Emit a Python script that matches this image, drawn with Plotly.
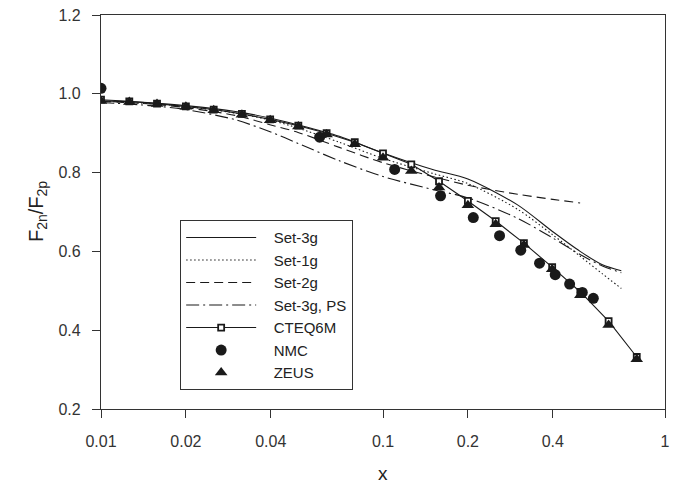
import numpy as np
import plotly.graph_objects as go

# ---- theory curves: F2n/F2p versus x ----
x_theory = [0.01, 0.015, 0.02, 0.03, 0.04, 0.05, 0.07, 0.1, 0.15, 0.2, 0.3, 0.4, 0.5, 0.6, 0.7]
set3g    = [0.982, 0.977, 0.970, 0.955, 0.938, 0.921, 0.892, 0.850, 0.808, 0.784, 0.718, 0.650, 0.600, 0.566, 0.551]
set1g    = [0.981, 0.975, 0.968, 0.951, 0.933, 0.913, 0.877, 0.836, 0.798, 0.772, 0.707, 0.642, 0.588, 0.543, 0.506]
set3g_ps = [0.978, 0.970, 0.960, 0.934, 0.903, 0.874, 0.830, 0.790, 0.757, 0.736, 0.684, 0.634, 0.592, 0.563, 0.546]

x_set2g  = [0.01, 0.015, 0.02, 0.03, 0.04, 0.05, 0.07, 0.1, 0.15, 0.2, 0.3, 0.4, 0.5]
set2g    = [0.981, 0.974, 0.965, 0.945, 0.921, 0.902, 0.864, 0.825, 0.790, 0.768, 0.745, 0.732, 0.723]

# ---- CTEQ6M and ZEUS share the same x grid ----
x_grid = [0.01, 0.0126, 0.0158, 0.0200, 0.0251, 0.0316, 0.0398, 0.0501, 0.0631, 0.0794,
          0.1, 0.126, 0.158, 0.200, 0.251, 0.316, 0.398, 0.501, 0.631, 0.794]
cteq6m = [0.985, 0.981, 0.975, 0.968, 0.960, 0.949, 0.935, 0.919, 0.900, 0.877,
          0.849, 0.821, 0.778, 0.728, 0.677, 0.621, 0.560, 0.497, 0.423, 0.332]
zeus   = [0.982, 0.979, 0.974, 0.967, 0.958, 0.947, 0.933, 0.917, 0.897, 0.872,
          0.838, 0.804, 0.762, 0.717, 0.669, 0.616, 0.555, 0.489, 0.413, 0.326]

# ---- NMC data ----
x_nmc = [0.01, 0.0596, 0.110, 0.160, 0.209, 0.259, 0.308, 0.359, 0.408, 0.459, 0.509, 0.557]
nmc   = [1.014, 0.890, 0.808, 0.741, 0.686, 0.640, 0.603, 0.570, 0.541, 0.517, 0.496, 0.481]

INK = "#1a1a1a"
FONT = "Liberation Sans, Arial, Helvetica, sans-serif"
GAP = "\u00a0\u00a0\u00a0"  # extra room between legend symbol and label

fig = go.Figure()

def curve(x, y, name, dash):
    fig.add_trace(go.Scatter(
        x=x, y=y, name=GAP + name, mode="lines",
        line=dict(color=INK, width=1.1, dash=dash, shape="spline", smoothing=0.8),
    ))

curve(x_theory, set3g, "Set-3g", "solid")
curve(x_theory, set1g, "Set-1g", "1.5px,2.5px")
curve(x_set2g, set2g, "Set-2g", "9px,5px")
curve(x_theory, set3g_ps, "Set-3g, PS", "13px,4px,2px,4px")

fig.add_trace(go.Scatter(
    x=x_grid, y=cteq6m, name=GAP + "CTEQ6M", mode="lines+markers",
    line=dict(color=INK, width=1.1),
    marker=dict(symbol="square", size=6, color="white", line=dict(color=INK, width=1.8)),
))
fig.add_trace(go.Scatter(
    x=x_nmc, y=nmc, name=GAP + "NMC", mode="markers",
    marker=dict(symbol="circle", size=11, color=INK),
))
fig.add_trace(go.Scatter(
    x=x_grid, y=zeus, name=GAP + "ZEUS", mode="markers",
    marker=dict(symbol="triangle-up", size=11, color=INK),
))

axis_common = dict(
    showline=True, linecolor="#333", linewidth=1.2, mirror=True,
    ticks="outside", tickcolor="#333", tickwidth=1.2,
    showgrid=False, zeroline=False, automargin=False,
    tickfont=dict(family=FONT, size=16, color="#333"),
)

fig.update_layout(
    width=680, height=485,
    margin=dict(l=101, r=15, t=15, b=76, pad=0, autoexpand=False),
    paper_bgcolor="white", plot_bgcolor="white",
    xaxis=dict(
        type="log", range=[-2, 0],
        tickvals=[0.01, 0.02, 0.04, 0.1, 0.2, 0.4, 1],
        ticktext=["0.01", "0.02", "0.04", "0.1", "0.2", "0.4", "1"],
        ticklen=8, ticklabelstandoff=10,
        **axis_common,
    ),
    yaxis=dict(
        range=[0.2, 1.2],
        tickvals=[0.2, 0.4, 0.6, 0.8, 1.0, 1.2],
        ticktext=["0.2", "0.4", "0.6", "0.8", "1.0", "1.2"],
        ticklen=8, ticklabelstandoff=8,
        **axis_common,
    ),
    showlegend=True,
    legend=dict(
        x=0.140, y=0.048, xanchor="left", yanchor="bottom",
        bgcolor="white", bordercolor="#333", borderwidth=1.2,
        font=dict(family=FONT, size=15, color="#222"),
        itemwidth=70, tracegroupgap=0,
    ),
    annotations=[
        dict(text="x", xref="paper", yref="paper", x=0.5, y=0, yshift=-64,
             showarrow=False, xanchor="center", yanchor="middle",
             font=dict(family=FONT, size=19, color="#222")),
        dict(text="F<sub>2n</sub>/F<sub>2p</sub>", xref="paper", yref="paper",
             x=0, y=0.5, xshift=-64, textangle=-90, showarrow=False,
             xanchor="center", yanchor="middle",
             font=dict(family=FONT, size=20, color="#222")),
    ],
)

fig.write_html("out.html")
